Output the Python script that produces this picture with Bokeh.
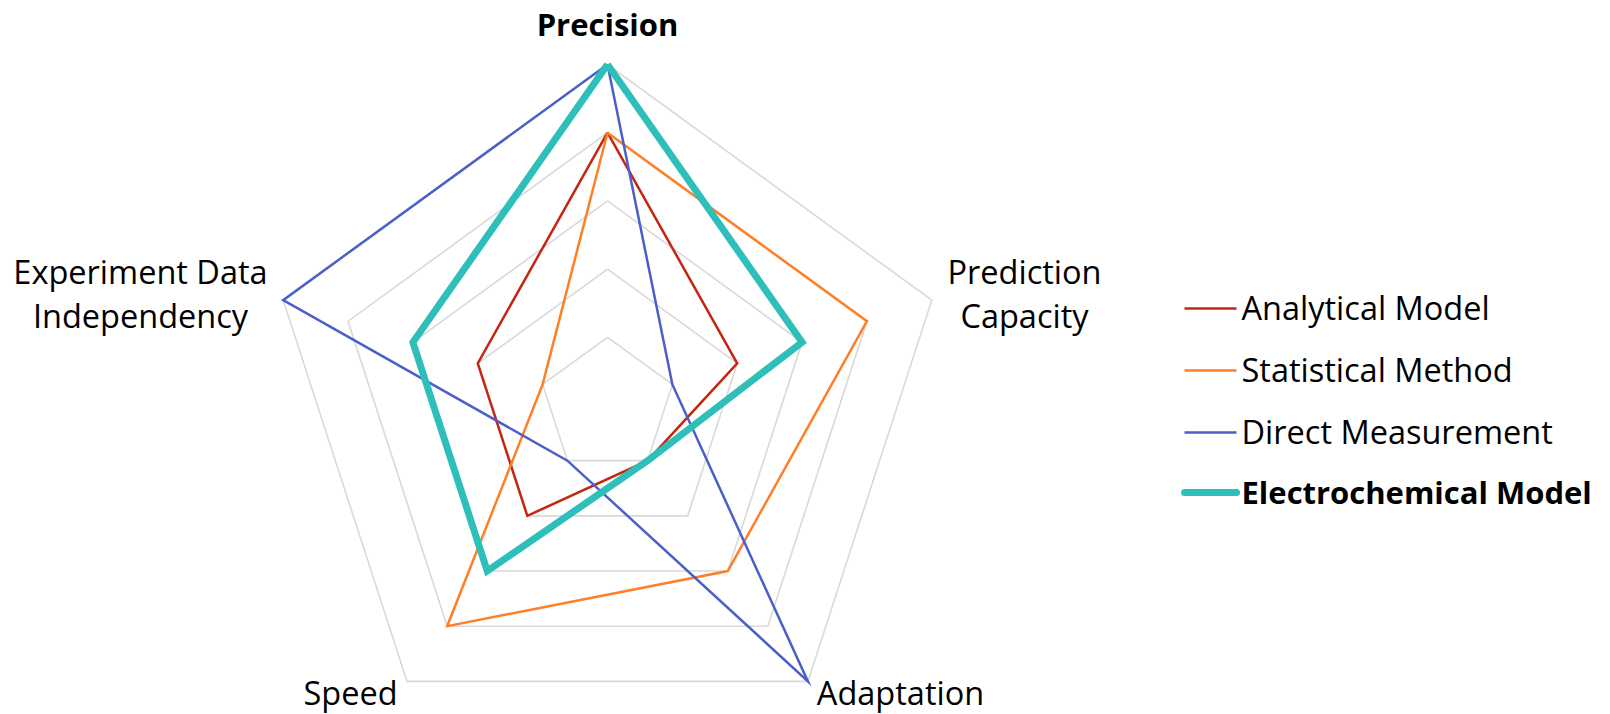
import numpy as np
from bokeh.plotting import figure
from bokeh.models import Range1d, ColumnDataSource
from bokeh.core.properties import value
from bokeh.embed import file_html
from bokeh.resources import INLINE

# Radar chart data (score 0-5 on each criterion)
categories = ["Precision", "Prediction Capacity", "Adaptation", "Speed",
              "Experiment Data Independency"]
analytical = [4, 2, 1, 2, 2]
statistical = [4, 4, 3, 4, 1]
direct = [5, 1, 5, 1, 5]
electrochemical = [5, 3, 1, 3, 3]
levels = [1, 2, 3, 4, 5]

series_names = ["Analytical Model", "Statistical Method", "Direct Measurement",
                "Electrochemical Model"]
series_values = [analytical, statistical, direct, electrochemical]
series_colors = ["#C4260F", "#FF7F27", "#4A5FC8", "#2EBFBB"]
series_widths = [2.5, 2.5, 2.5, 7]

W, H = 1610, 714
CX, CY = 607, 405      # centre of the radar, in page pixels
S = 68.2               # pixels per score unit

FONT = "Open Sans"
FS = "32.5px"
FS_BOLD = "31px"

p = figure(width=W, height=H, output_backend="svg", toolbar_location=None,
           x_range=Range1d(-CX / S, (W - CX) / S),
           y_range=Range1d(-(H - CY) / S, CY / S),
           min_border=0, outline_line_color=None, background_fill_color="white")
p.axis.visible = False
p.grid.visible = False

n = len(categories)
angles = np.deg2rad(90 - 360 / n * np.arange(n))


def polar(vals):
    v = np.asarray(vals, dtype=float)
    xs = v * np.cos(angles)
    ys = v * np.sin(angles)
    return list(xs) + [xs[0]], list(ys) + [ys[0]]


# grid pentagons
for lv in levels:
    gx, gy = polar([lv] * n)
    p.line(gx, gy, line_color="#D9D9D9", line_width=1.6, line_join="miter")

# series outlines
for vals, col, lw in zip(series_values, series_colors, series_widths):
    sx, sy = polar(vals)
    p.line(sx, sy, line_color=col, line_width=lw, line_join="miter")


def px(x):
    return (x - CX) / S


def py(y):
    return (CY - y) / S


# category labels (y = vertical middle of each text line)
lab = ColumnDataSource(dict(
    x=[px(1024), px(1024), px(900), px(350), px(140), px(140)],
    y=[py(271), py(315), py(692), py(692), py(271), py(315)],
    t=["Prediction", "Capacity", "Adaptation", "Speed", "Experiment Data", "Independency"],
))
p.text(x="x", y="y", text="t", source=lab, text_font=value(FONT), text_font_size=FS,
       text_color="black", text_align="center", text_baseline="middle")
p.text(x=[px(607)], y=[py(23)], text=[categories[0]], text_font=value(FONT),
       text_font_size=FS_BOLD, text_font_style="bold", text_color="black",
       text_align="center", text_baseline="middle")

# legend
row_y = [308, 370, 432, 492]
for i, (name, col, lw) in enumerate(zip(series_names, series_colors, series_widths)):
    p.segment(x0=[px(1184)], y0=[py(row_y[i])], x1=[px(1236)], y1=[py(row_y[i])],
              line_color=col, line_width=lw, line_cap="round" if lw > 3 else "butt")
    p.text(x=[px(1241)], y=[py(row_y[i] - 1)], text=[name], text_font=value(FONT),
           text_font_size=FS_BOLD if i == 3 else FS,
           text_font_style="bold" if i == 3 else "normal",
           text_color="black", text_align="left", text_baseline="middle")

open("out.html", "w").write(file_html(p, INLINE))
